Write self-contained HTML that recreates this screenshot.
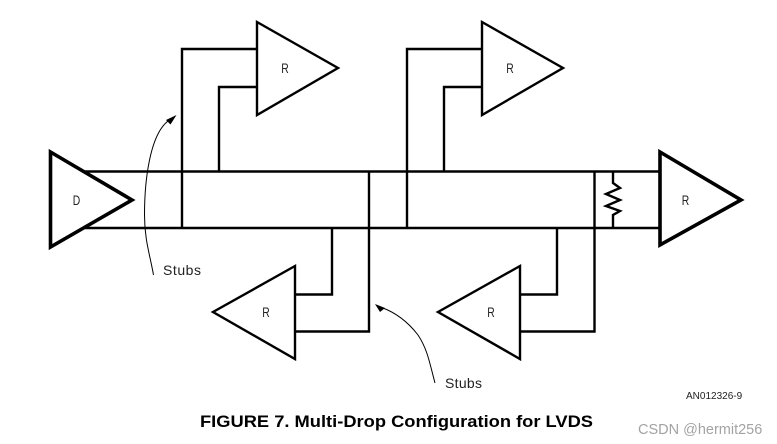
<!DOCTYPE html>
<html>
<head>
<meta charset="utf-8">
<style>
html,body{margin:0;padding:0;background:#fff;width:777px;height:444px;overflow:hidden}
svg{display:block}
text{font-family:"Liberation Sans",sans-serif}
.l{font-size:14px;fill:#222}
.s{font-size:14px;fill:#222}
</style>
</head>
<body>
<svg width="777" height="444" viewBox="0 0 777 444" xmlns="http://www.w3.org/2000/svg">
<g fill="none" stroke="#000" stroke-width="2.4" stroke-linejoin="miter">
  <path d="M85 171.5H660M85 228H660"/>
  <path d="M182 228V49H257"/>
  <path d="M219 171.5V87H257"/>
  <path d="M407 228V49H482"/>
  <path d="M444 171.5V87H482"/>
  <path d="M332 228V294.5H295"/>
  <path d="M369 171.5V331.5H295"/>
  <path d="M557 228V294.5H520"/>
  <path d="M594.5 171.5V331.5H520"/>
  <path d="M613 171.5V183L620 188L606 194L620 200L606 206L620 211L613 215V228"/>
  <path d="M257 22L338 68L257 115Z"/>
  <path d="M482 22L563 68L482 115Z"/>
  <path d="M295 266L213 312L295 359Z"/>
  <path d="M520 266L438 312L520 359Z"/>
</g>
<g fill="none" stroke="#000" stroke-width="3.6">
  <path d="M50.5 152L132 200L50.5 247Z"/>
  <path d="M660 152L741 200L660 245Z"/>
</g>
<g fill="none" stroke="#000" stroke-width="1">
  <path d="M153.5 275C150 255 144.5 240 144.5 215C144.5 180 150 135 168 121"/>
  <path d="M435 383C430 365 428 350 418 335C408 322 395 312 380 307"/>
</g>
<path d="M176.5 115L166 120L170.5 124.5Z" fill="#000"/>
<path d="M375 304L385 308L380 312Z" fill="#000"/>
<g text-anchor="middle">
  <text class="l" transform="translate(76.5 205) scale(.74 1)">D</text>
  <text class="l" transform="translate(285 73) scale(.74 1)">R</text>
  <text class="l" transform="translate(510 73) scale(.74 1)">R</text>
  <text class="l" transform="translate(266 317) scale(.74 1)">R</text>
  <text class="l" transform="translate(491 317) scale(.74 1)">R</text>
  <text class="l" transform="translate(685.5 205) scale(.74 1)">R</text>
</g>
<text class="s" x="163" y="275" textLength="38" lengthAdjust="spacing">Stubs</text>
<text class="s" x="445" y="388" textLength="37" lengthAdjust="spacing">Stubs</text>
<text x="686" y="399" font-size="10" fill="#222">AN012326-9</text>
<text x="200" y="427" font-size="17" font-weight="bold" fill="#000" textLength="393" lengthAdjust="spacingAndGlyphs">FIGURE 7. Multi-Drop Configuration for LVDS</text>
<text x="638" y="434" font-size="14.5" fill="#a3a3a3">CSDN @hermit256</text>
</svg>
</body>
</html>
